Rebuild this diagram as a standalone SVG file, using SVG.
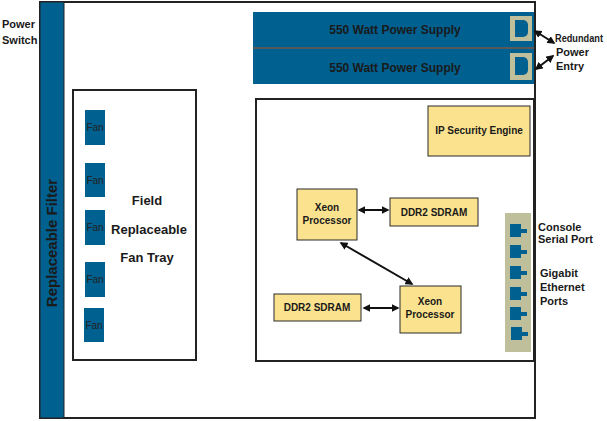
<svg xmlns="http://www.w3.org/2000/svg" width="607" height="421" viewBox="0 0 607 421">
<style>
text{font-family:"Liberation Sans",Arial,sans-serif;font-weight:bold;fill:#1a1a1a}
.blue{fill:#006090}
.yel{fill:#fbe28e;stroke:#2a2a2a;stroke-width:1}
.box{fill:#fff;stroke:#222;stroke-width:2}
.fan{fill:#006090}
.ft{font-size:10px;font-weight:normal;fill:#222}
.lbl{font-size:11px}
.cn{stroke:#111;stroke-width:2;fill:none;marker-start:url(#a);marker-end:url(#a)}
</style>
<defs>
<marker id="a" viewBox="0 0 10 10" refX="8" refY="5" markerWidth="4" markerHeight="4" orient="auto-start-reverse"><path d="M0,0L10,5L0,10z" fill="#111"/></marker>
</defs>
<rect width="607" height="421" fill="#fff"/>
<g id="frame"><rect x="40" y="2" width="495" height="416" class="box"/></g>
<g id="filter"><rect x="40" y="2" width="24" height="416" class="blue" stroke="#222" stroke-width="1"/>
<text transform="translate(57,243) rotate(-90)" text-anchor="middle" font-size="15" fill="#222">Replaceable Filter</text></g>
<text x="2" y="28" class="lbl">Power</text><text x="2" y="44" class="lbl">Switch</text>
<g id="ps1"><rect x="253" y="12" width="281" height="35" class="blue"/><text x="395" y="34" text-anchor="middle" font-size="12" fill="#222">550 Watt Power Supply</text>
<rect x="510" y="16" width="22" height="25" fill="#bfbf9c"/><path d="M515,20h8a5,5 0 0 1 5,5v7a5,5 0 0 1 -5,5h-8z" class="blue"/></g>
<g id="ps2"><rect x="253" y="49" width="281" height="35" class="blue"/><text x="395" y="72" text-anchor="middle" font-size="12" fill="#222">550 Watt Power Supply</text>
<rect x="510" y="53" width="22" height="27" fill="#bfbf9c"/><path d="M515,57h8a5,5 0 0 1 5,5v8a5,5 0 0 1 -5,5h-8z" class="blue"/></g>
<line x1="253" y1="48" x2="534" y2="48" stroke="#222" stroke-width="1.5"/>
<text x="555" y="42" font-size="10" textLength="48" lengthAdjust="spacingAndGlyphs">Redundant</text><text x="556" y="56" class="lbl">Power</text><text x="556" y="70" class="lbl">Entry</text>
<g id="fantray"><rect x="73" y="90" width="123" height="270" class="box"/>
<text x="147" y="205" text-anchor="middle" font-size="13">Field</text>
<text x="149" y="234" text-anchor="middle" font-size="13">Replaceable</text>
<text x="147" y="262" text-anchor="middle" font-size="13">Fan Tray</text></g>
<g id="fans">
<rect x="85" y="110" width="20" height="35" class="fan"/><text x="95" y="131" class="ft" text-anchor="middle">Fan</text>
<rect x="85" y="163" width="20" height="34" class="fan"/><text x="95" y="184" class="ft" text-anchor="middle">Fan</text>
<rect x="85" y="210" width="20" height="35" class="fan"/><text x="95" y="231" class="ft" text-anchor="middle">Fan</text>
<rect x="85" y="262" width="20" height="35" class="fan"/><text x="95" y="283" class="ft" text-anchor="middle">Fan</text>
<rect x="84" y="308" width="20" height="34" class="fan"/><text x="94" y="329" class="ft" text-anchor="middle">Fan</text></g>
<g id="board"><rect x="256" y="99" width="278" height="262" class="box"/></g>
<g id="ipsec"><rect x="428" y="106" width="102" height="50" class="yel"/><text x="479" y="134" text-anchor="middle" font-size="10">IP Security Engine</text></g>
<g id="xeon1"><rect x="297" y="189" width="60" height="51" class="yel"/><text x="327" y="211" text-anchor="middle" font-size="10">Xeon</text><text x="327" y="224" text-anchor="middle" font-size="10">Processor</text></g>
<g id="ddr1"><rect x="390" y="198" width="88" height="28" class="yel"/><text x="434" y="216" text-anchor="middle" font-size="10">DDR2 SDRAM</text></g>
<g id="ddr2"><rect x="274" y="294" width="87" height="27" class="yel"/><text x="317" y="311" text-anchor="middle" font-size="10">DDR2 SDRAM</text></g>
<g id="xeon2"><rect x="400" y="286" width="61" height="47" class="yel"/><text x="430" y="305" text-anchor="middle" font-size="10">Xeon</text><text x="430" y="318" text-anchor="middle" font-size="10">Processor</text></g>
<g id="connectors">
<line x1="359" y1="210" x2="388" y2="210" class="cn"/>
<line x1="341" y1="243" x2="412" y2="284" class="cn"/>
<line x1="364" y1="308" x2="398" y2="308" class="cn"/>
<line x1="535" y1="31" x2="554" y2="43" class="cn"/>
<line x1="536" y1="69" x2="553" y2="56" class="cn"/>
</g>
<g id="ports"><rect x="505" y="213" width="26" height="139" fill="#bfbf9c"/>
<g class="blue">
<rect x="510" y="224" width="11" height="13"/><rect x="521" y="229" width="6" height="4"/>
<rect x="510" y="245" width="11" height="13"/><rect x="521" y="250" width="6" height="4"/>
<rect x="510" y="266" width="11" height="13"/><rect x="521" y="271" width="6" height="4"/>
<rect x="510" y="287" width="11" height="13"/><rect x="521" y="292" width="6" height="4"/>
<rect x="510" y="307" width="11" height="13"/><rect x="521" y="312" width="6" height="4"/>
<rect x="511" y="327" width="11" height="13"/><rect x="522" y="332" width="6" height="4"/>
</g></g>
<text x="538" y="231" font-size="11" font-weight="normal">Console</text><text x="538" y="243" font-size="11" font-weight="normal">Serial Port</text>
<text x="540" y="277" class="lbl">Gigabit</text><text x="540" y="291" class="lbl">Ethernet</text><text x="540" y="305" class="lbl">Ports</text>
</svg>
